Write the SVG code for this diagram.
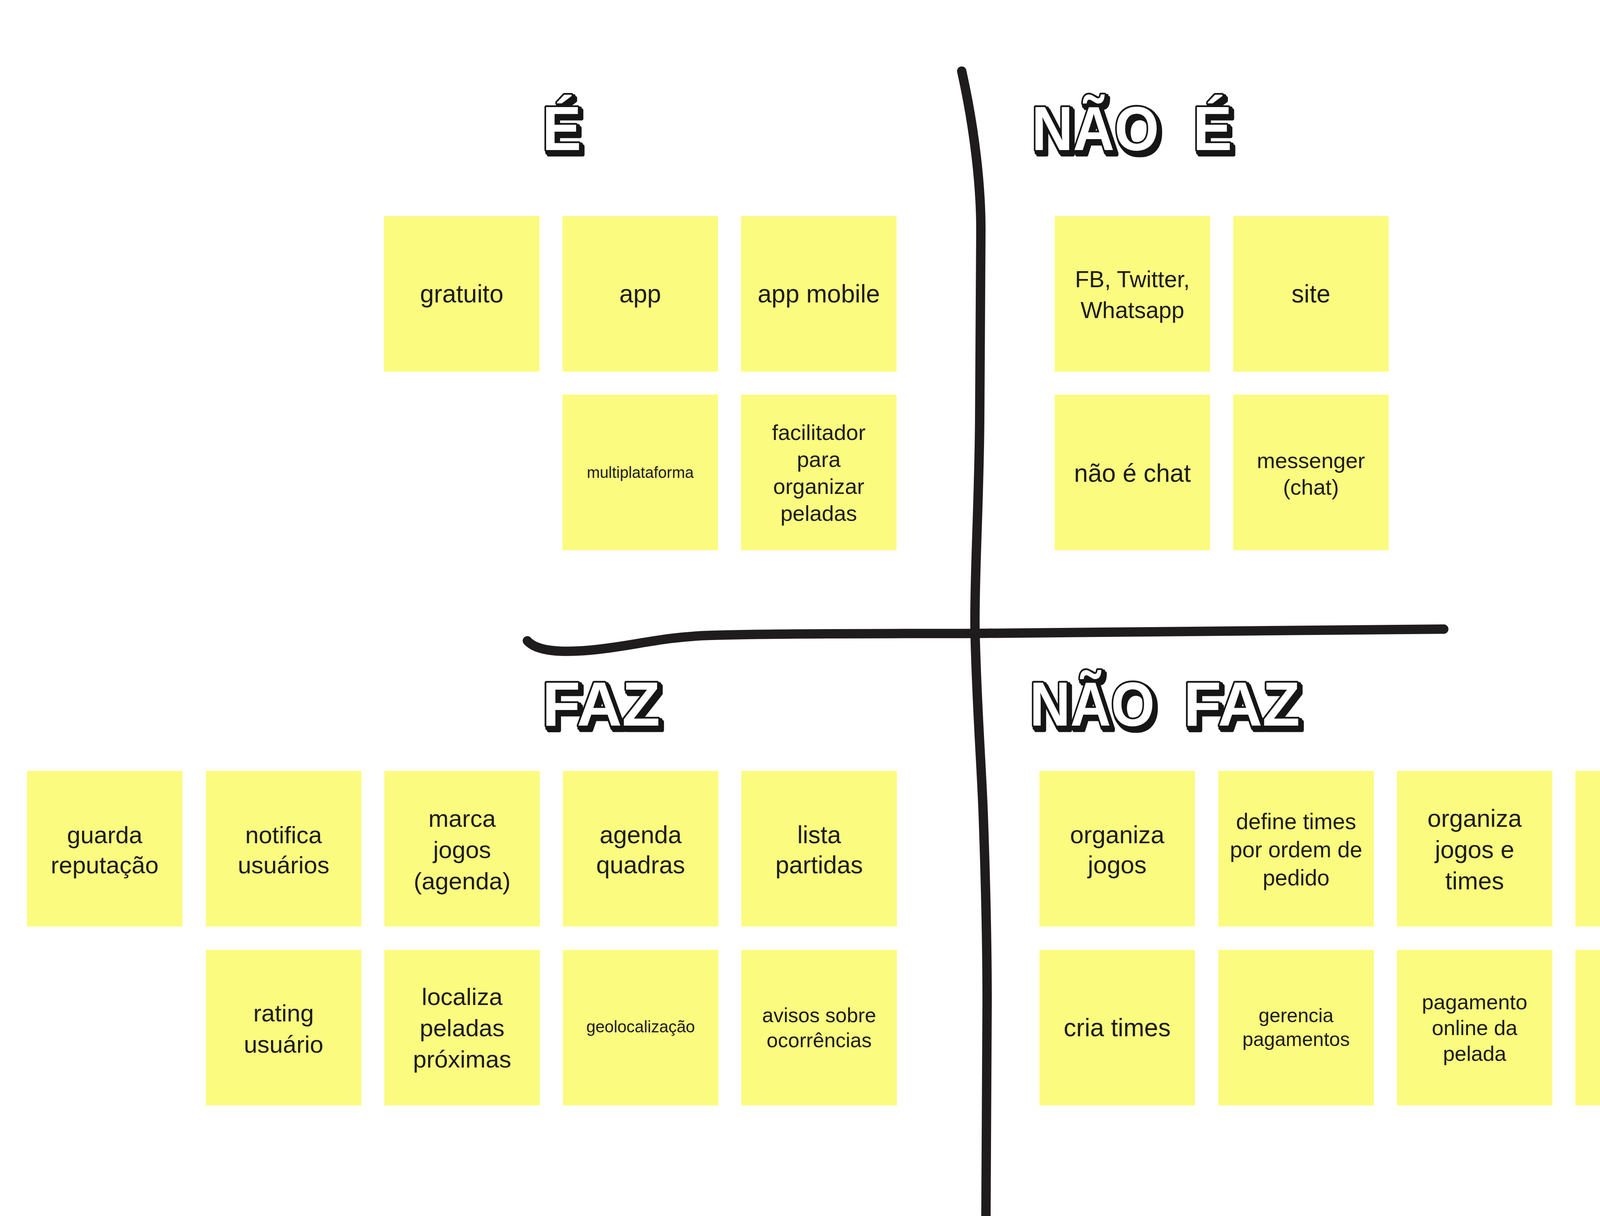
<svg xmlns="http://www.w3.org/2000/svg" width="4512" height="3112" viewBox="0 0 4512 3112">
<style>
.bg{fill:#ffffff}
.sticky{fill:#FBFB7F}
.t{font-family:"Liberation Sans",Arial,sans-serif;fill:#1c1c1c;text-anchor:middle}
.title{font-family:"Liberation Sans",Arial,sans-serif;font-weight:bold;font-size:160px;fill:#ffffff;stroke:#151515;stroke-width:9;stroke-linejoin:round;paint-order:stroke;filter:url(#extrude)}
.line{fill:none;stroke:#1e1c1d;stroke-width:24;stroke-linecap:round;stroke-linejoin:round}
</style>
<defs>
<filter id="extrude" x="-20%" y="-20%" width="150%" height="160%">
<feMorphology in="SourceAlpha" operator="dilate" radius="2" result="d"/>
<feOffset in="d" dx="4" dy="5" result="o1"/>
<feOffset in="d" dx="8" dy="10" result="o2"/>
<feMerge result="m"><feMergeNode in="o1"/><feMergeNode in="o2"/></feMerge>
<feFlood flood-color="#151515"/>
<feComposite in2="m" operator="in" result="s"/>
<feMerge><feMergeNode in="s"/><feMergeNode in="SourceGraphic"/></feMerge>
</filter>
</defs>
<rect class="bg" x="0" y="0" width="4512" height="3112"/>

<g id="dividers">
<path class="line" d="M2462,182 C2495,330 2512,480 2511,598 C2510,800 2509,950 2508,1077 C2506,1300 2494,1480 2496,1612 C2500,1800 2512,1950 2517,2082 C2523,2250 2527,2420 2527,2564 C2527,2800 2524,3000 2524,3112"/>
<path class="line" d="M1350,1640 C1375,1668 1440,1670 1510,1664 C1620,1654 1690,1630 1820,1626 C2000,1620 2300,1622 2500,1621 C2900,1617 3300,1612 3696,1610"/>
</g>

<g id="title-e">
<text class="title" x="1388" y="384" textLength="100" lengthAdjust="spacingAndGlyphs">É</text>
</g>
<g id="title-nao-e">
<text class="title" x="2641" y="384" textLength="326" lengthAdjust="spacingAndGlyphs">NÃO</text>
<text class="title" x="3054" y="384" textLength="100" lengthAdjust="spacingAndGlyphs">É</text>
</g>
<g id="title-faz">
<text class="title" x="1388" y="1857" textLength="302" lengthAdjust="spacingAndGlyphs">FAZ</text>
</g>
<g id="title-nao-faz">
<text class="title" x="2636" y="1857" textLength="320" lengthAdjust="spacingAndGlyphs">NÃO</text>
<text class="title" x="3030" y="1857" textLength="298" lengthAdjust="spacingAndGlyphs">FAZ</text>
</g>

<!-- É -->
<g id="n-gratuito"><rect class="sticky" x="983" y="553" width="398" height="398"/><text class="t" x="1182" y="774" font-size="64">gratuito</text></g>
<g id="n-app"><rect class="sticky" x="1440" y="553" width="398" height="398"/><text class="t" x="1639" y="774" font-size="64">app</text></g>
<g id="n-app-mobile"><rect class="sticky" x="1897" y="553" width="398" height="398"/><text class="t" x="2096" y="774" font-size="64">app mobile</text></g>
<g id="n-multiplataforma"><rect class="sticky" x="1440" y="1010" width="398" height="398"/><text class="t" x="1639" y="1223" font-size="40">multiplataforma</text></g>
<g id="n-facilitador"><rect class="sticky" x="1897" y="1010" width="398" height="398"/><text class="t" x="2096" font-size="56"><tspan x="2096" y="1126">facilitador</tspan><tspan x="2096" y="1195">para</tspan><tspan x="2096" y="1264">organizar</tspan><tspan x="2096" y="1333">peladas</tspan></text></g>

<!-- NÃO É -->
<g id="n-fb"><rect class="sticky" x="2700" y="553" width="398" height="398"/><text class="t" x="2899" font-size="59"><tspan x="2899" y="735">FB, Twitter,</tspan><tspan x="2899" y="814">Whatsapp</tspan></text></g>
<g id="n-site"><rect class="sticky" x="3157" y="553" width="398" height="398"/><text class="t" x="3356" y="774" font-size="64">site</text></g>
<g id="n-nao-e-chat"><rect class="sticky" x="2700" y="1010" width="398" height="398"/><text class="t" x="2899" y="1233" font-size="64">não é chat</text></g>
<g id="n-messenger"><rect class="sticky" x="3157" y="1010" width="398" height="398"/><text class="t" x="3356" font-size="56"><tspan x="3356" y="1198">messenger</tspan><tspan x="3356" y="1266">(chat)</tspan></text></g>

<!-- FAZ -->
<g id="n-guarda"><rect class="sticky" x="69" y="1973" width="398" height="398"/><text class="t" x="268" font-size="62"><tspan x="268" y="2158">guarda</tspan><tspan x="268" y="2235">reputação</tspan></text></g>
<g id="n-notifica"><rect class="sticky" x="527" y="1973" width="398" height="398"/><text class="t" x="726" font-size="62"><tspan x="726" y="2158">notifica</tspan><tspan x="726" y="2235">usuários</tspan></text></g>
<g id="n-marca"><rect class="sticky" x="984" y="1973" width="398" height="398"/><text class="t" x="1183" font-size="62"><tspan x="1183" y="2116">marca</tspan><tspan x="1183" y="2196">jogos</tspan><tspan x="1183" y="2276">(agenda)</tspan></text></g>
<g id="n-agenda"><rect class="sticky" x="1441" y="1973" width="398" height="398"/><text class="t" x="1640" font-size="63"><tspan x="1640" y="2158">agenda</tspan><tspan x="1640" y="2235">quadras</tspan></text></g>
<g id="n-lista"><rect class="sticky" x="1898" y="1973" width="398" height="398"/><text class="t" x="2097" font-size="63"><tspan x="2097" y="2158">lista</tspan><tspan x="2097" y="2235">partidas</tspan></text></g>
<g id="n-rating"><rect class="sticky" x="527" y="2431" width="398" height="398"/><text class="t" x="726" font-size="62"><tspan x="726" y="2614">rating</tspan><tspan x="726" y="2694">usuário</tspan></text></g>
<g id="n-localiza"><rect class="sticky" x="984" y="2431" width="398" height="398"/><text class="t" x="1183" font-size="62"><tspan x="1183" y="2572">localiza</tspan><tspan x="1183" y="2652">peladas</tspan><tspan x="1183" y="2732">próximas</tspan></text></g>
<g id="n-geolocalizacao"><rect class="sticky" x="1441" y="2431" width="398" height="398"/><text class="t" x="1640" y="2642" font-size="42">geolocalização</text></g>
<g id="n-avisos"><rect class="sticky" x="1898" y="2431" width="398" height="398"/><text class="t" x="2097" font-size="52"><tspan x="2097" y="2616">avisos sobre</tspan><tspan x="2097" y="2680">ocorrências</tspan></text></g>

<!-- NÃO FAZ -->
<g id="n-organiza-jogos"><rect class="sticky" x="2661" y="1973" width="398" height="398"/><text class="t" x="2860" font-size="63"><tspan x="2860" y="2158">organiza</tspan><tspan x="2860" y="2235">jogos</tspan></text></g>
<g id="n-define-times"><rect class="sticky" x="3119" y="1973" width="398" height="398"/><text class="t" x="3318" font-size="57"><tspan x="3318" y="2122">define times</tspan><tspan x="3318" y="2194">por ordem de</tspan><tspan x="3318" y="2266">pedido</tspan></text></g>
<g id="n-organiza-jogos-times"><rect class="sticky" x="3576" y="1973" width="398" height="398"/><text class="t" x="3775" font-size="63"><tspan x="3775" y="2116">organiza</tspan><tspan x="3775" y="2196">jogos e</tspan><tspan x="3775" y="2276">times</tspan></text></g>
<g id="n-nao-faz-jogos"><rect class="sticky" x="4033" y="1973" width="398" height="398"/><text class="t" x="4232" font-size="63"><tspan x="4232" y="2116">não faz</tspan><tspan x="4232" y="2196">jogos</tspan><tspan x="4232" y="2276">privados</tspan></text></g>
<g id="n-cria-times"><rect class="sticky" x="2661" y="2431" width="398" height="398"/><text class="t" x="2860" y="2652" font-size="64">cria times</text></g>
<g id="n-gerencia"><rect class="sticky" x="3119" y="2431" width="398" height="398"/><text class="t" x="3318" font-size="50"><tspan x="3318" y="2616">gerencia</tspan><tspan x="3318" y="2677">pagamentos</tspan></text></g>
<g id="n-pagamento"><rect class="sticky" x="3576" y="2431" width="398" height="398"/><text class="t" x="3775" font-size="54"><tspan x="3775" y="2583">pagamento</tspan><tspan x="3775" y="2649">online da</tspan><tspan x="3775" y="2715">pelada</tspan></text></g>
<g id="n-nao-organiza"><rect class="sticky" x="4033" y="2431" width="398" height="398"/><text class="t" x="4232" font-size="45"><tspan x="4232" y="2617">não organiza</tspan><tspan x="4232" y="2676">campeonatos</tspan></text></g>
</svg>
